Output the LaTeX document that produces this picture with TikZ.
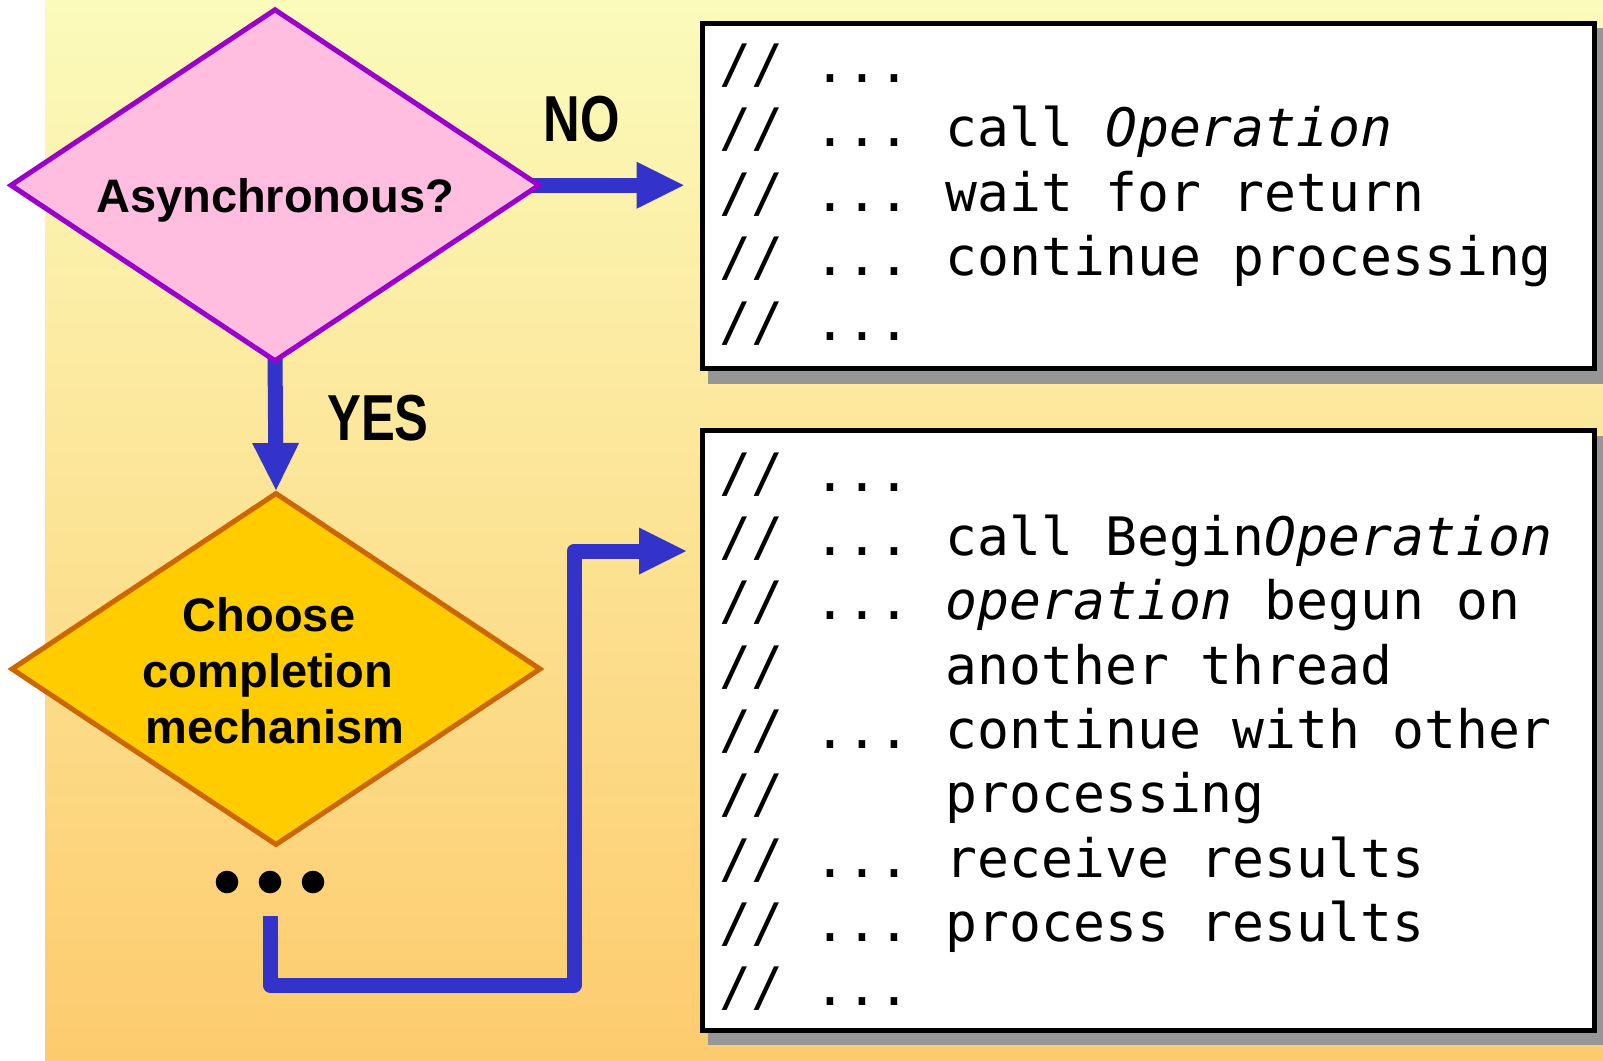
\documentclass[tikz,border=0pt]{standalone}
\usepackage{fontspec}
\usepackage{graphicx}
\setmainfont{Liberation Sans}
\newfontfamily\codefont{DejaVu Sans Mono}[ItalicFont={DejaVu Sans Mono Oblique}]
\usetikzlibrary{shapes.geometric,arrows.meta,calc}

\definecolor{bgtop}{RGB}{251,251,187}
\definecolor{bgbot}{RGB}{253,203,110}
\definecolor{flowblue}{RGB}{51,51,204}
\definecolor{pinkfill}{RGB}{255,190,224}
\definecolor{purpleline}{RGB}{153,0,204}
\definecolor{goldfill}{RGB}{255,204,0}
\definecolor{orangeline}{RGB}{204,102,0}
\definecolor{shadowgray}{RGB}{150,150,150}

\pgfdeclarelayer{bg}
\pgfdeclarelayer{conn}
\pgfsetlayers{bg,conn,main}

% one line of pseudo code: a comment prefix in a fixed column, then the text
\newlength\prefw
\setlength\prefw{226.5pt}
\newcommand\cl[2]{\makebox[\prefw][l]{#1}#2}

\tikzset{
  decision/.style={diamond, inner sep=0pt, shape aspect=1.5,
    minimum width=530pt, minimum height=353pt, line width=5pt},
  asksync/.style={decision, draw=purpleline, fill=pinkfill},
  choose/.style={decision, draw=orangeline, fill=goldfill},
  dlabel/.style={font=\fontsize{47}{56}\selectfont\bfseries, inner sep=0pt, anchor=base},
  answer/.style={font=\fontsize{65}{70}\selectfont\bfseries, inner sep=0pt, anchor=base},
  codebox/.style={rectangle, draw=black, fill=white, line width=5pt, inner sep=0pt},
  codeline/.style={font=\codefont\fontsize{53}{64}\selectfont, inner sep=0pt, anchor=base west},
  boxshadow/.style={fill=shadowgray},
  flow/.style={draw=flowblue, line width=15pt, line join=round,
    -{Triangle[length=47pt,width=47pt,line width=0pt]}},
}

\begin{document}
\begin{tikzpicture}[x=1pt,y=-1pt]
\useasboundingbox (0,0) rectangle (1603,1060);

% backdrop gradient
\begin{pgfonlayer}{bg}
  \shade[top color=bgtop, bottom color=bgbot] (45,0) rectangle (1603,1060);
\end{pgfonlayer}

% decisions
\node[asksync] (d1) at (275,185.25) {};
\node[choose]  (d2) at (276,669) {};
\node[dlabel] (asyncq) at (275,212.5) {Asynchronous?};
\node[dlabel] (ch1) at (269,631) {Choose};
\node[dlabel] (ch2) at (268,687) {completion};
\node[dlabel] (ch3) at (275,743) {mechanism};

\node[answer] (no)  at (582,141) {\scalebox{0.78}[1]{NO}};
\node[answer] (yes) at (378,440) {\scalebox{0.78}[1]{YES}};

% more alternatives
\fill (227,882) circle (11.3pt);
\fill (270,882) circle (11.3pt);
\fill (313,882) circle (11.3pt);

% code boxes
\node[codebox, minimum width=892pt, minimum height=345.5pt] (box1) at (1148.5,195.75) {};
\node[codebox, minimum width=892pt, minimum height=599.5pt] (box2) at (1148.5,730.25) {};

\begin{pgfonlayer}{conn}
  \fill[boxshadow] ([shift={(7.5,7.5)}]box1.north west) rectangle ([shift={(12.5,12.5)}]box1.south east);
  \fill[boxshadow] ([shift={(7.5,7.5)}]box2.north west) rectangle ([shift={(12.5,12.5)}]box2.south east);
\end{pgfonlayer}

% synchronous call
\node[codeline] (s1) at (719,82)    {\cl{// ...}{}};
\node[codeline] (s2) at (719,146.5) {\cl{// ...}{call \textit{Operation}}};
\node[codeline] (s3) at (719,211)   {\cl{// ...}{wait for return}};
\node[codeline] (s4) at (719,275.5) {\cl{// ...}{continue processing}};
\node[codeline] (s5) at (719,340)   {\cl{// ...}{}};

% asynchronous call
\node[codeline] (a1) at (719,491)   {\cl{// ...}{}};
\node[codeline] (a2) at (719,555.3) {\cl{// ...}{call Begin\textit{Operation}}};
\node[codeline] (a3) at (719,619.6) {\cl{// ...}{\textit{operation} begun on}};
\node[codeline] (a4) at (719,684)   {\cl{//}{another thread}};
\node[codeline] (a5) at (719,748)   {\cl{// ...}{continue with other}};
\node[codeline] (a6) at (719,812.5) {\cl{//}{processing}};
\node[codeline] (a7) at (719,877)   {\cl{// ...}{receive results}};
\node[codeline] (a8) at (719,941)   {\cl{// ...}{process results}};
\node[codeline] (a9) at (719,1005)  {\cl{// ...}{}};

% connectors
\path (d1.east -| box1.west) coordinate (noend);
\coordinate (dotsend) at (270,916);
\coordinate (rise) at (574,985);
\coordinate (asyncend) at (686,551);
\begin{pgfonlayer}{conn}
  \draw[flow] ([xshift=-12pt]d1.east) -- ([xshift=-16.5pt]noend);
  \draw[flow] ([yshift=12pt]d1.south) -- (d2.north);
  \draw[flow] (dotsend) |- (rise) |- (asyncend);
\end{pgfonlayer}
\end{tikzpicture}
\end{document}
